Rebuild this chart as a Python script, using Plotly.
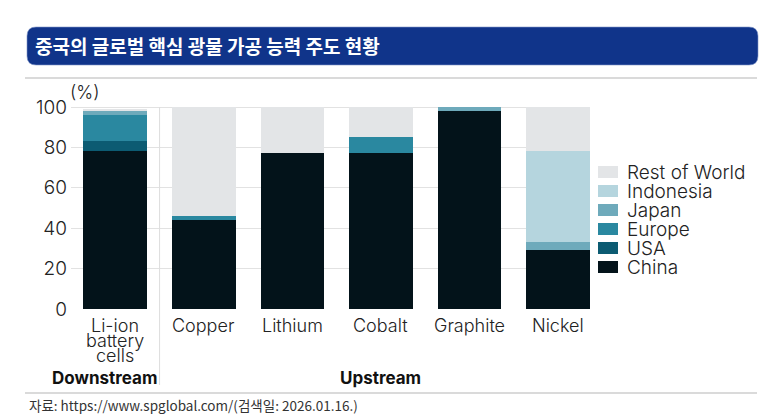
import plotly.graph_objects as go

# data (%)
categories = ["Li-ion\nbattery\ncells", "Copper", "Lithium", "Cobalt", "Graphite", "Nickel"]
china = [78, 44, 77, 77, 98, 29]
usa = [5, 0, 0, 0, 0, 0]
europe = [13, 2, 0, 8, 0, 0]
japan = [2, 0, 0, 0, 2, 4]
indonesia = [0, 0, 0, 0, 0, 45]
rest_of_world = [1, 54, 23, 15, 0, 22]
y_ticks = [0, 20, 40, 60, 80, 100]

series = [
    ("China", china, "#03131a"),
    ("USA", usa, "#0c5b72"),
    ("Europe", europe, "#2a88a0"),
    ("Japan", japan, "#6eaabb"),
    ("Indonesia", indonesia, "#b5d5de"),
    ("Rest of World", rest_of_world, "#e3e5e7"),
]

# plot area in pixels, used to place the decorations
L, R, T, B = 71, 590, 105, 309
W, H = R - L, B - T


def px(x):
    return (x - L) / W


def py(y):
    return (B - y) / H


xs = list(range(len(categories)))
label_font = dict(family="Inter, Lato, sans-serif", size=18, color="#222222", weight=300)

fig = go.Figure()
for name, vals, color in series:
    fig.add_trace(go.Bar(
        x=xs, y=vals, name=name,
        marker=dict(color=color, line=dict(width=0)),
    ))

# category labels, one line at a time so the leading stays tight like the original
for i, cat in enumerate(categories):
    for j, line in enumerate(cat.split("\n")):
        fig.add_annotation(x=i, y=0, xref="x", yref="y", text=line, showarrow=False,
                           yanchor="top", yshift=-4 - j * 15, font=label_font)

# legend drawn by hand: top entry is the last series
for k, (name, vals, color) in enumerate(reversed(series)):
    yc = 172 + k * 19
    fig.add_shape(type="rect", xref="paper", yref="paper", x0=px(598), x1=px(618),
                  y0=py(yc - 6), y1=py(yc + 6), fillcolor=color, line=dict(width=0))
    fig.add_annotation(x=px(625), y=py(yc), xref="paper", yref="paper", text=name,
                       showarrow=False, xanchor="left", yanchor="middle",
                       font=dict(label_font, size=19))

# group labels
group_font = dict(family="Inter, Lato, sans-serif", size=17, color="#111111", weight=700)
fig.add_annotation(x=0, y=py(378), xref="x", yref="paper", text="Downstream", showarrow=False,
                   xshift=-11, yanchor="middle", font=group_font)
fig.add_annotation(x=3, y=py(378), xref="x", yref="paper", text="Upstream", showarrow=False,
                   yanchor="middle", font=group_font)

# (%) unit label
fig.add_annotation(x=px(68), y=py(92), xref="paper", yref="paper", text="(%)", showarrow=False,
                   xanchor="left", yanchor="middle", font=label_font)

# divider between downstream and upstream
fig.add_shape(type="line", xref="x", yref="paper", x0=0.5, x1=0.5, y0=py(385), y1=py(107),
              line=dict(color="#dddddd", width=1))

# rule under the title and above the source
for yy in (78, 393):
    fig.add_shape(type="line", xref="paper", yref="paper", x0=px(25), x1=px(757),
                  y0=py(yy), y1=py(yy), line=dict(color="#b5b5b5", width=1))

# rounded title bar
x0, x1, y0, y1, r = 27, 758, 27, 65, 9
path = (f"M{px(x0 + r)},{py(y0)} L{px(x1 - r)},{py(y0)} Q{px(x1)},{py(y0)} {px(x1)},{py(y0 + r)} "
        f"L{px(x1)},{py(y1 - r)} Q{px(x1)},{py(y1)} {px(x1 - r)},{py(y1)} "
        f"L{px(x0 + r)},{py(y1)} Q{px(x0)},{py(y1)} {px(x0)},{py(y1 - r)} "
        f"L{px(x0)},{py(y0 + r)} Q{px(x0)},{py(y0)} {px(x0 + r)},{py(y0)} Z")
fig.add_shape(type="path", xref="paper", yref="paper", path=path,
              fillcolor="#10348a", line=dict(color="#7f95c8", width=0.6), layer="below")
fig.add_annotation(x=px(33), y=py(46), xref="paper", yref="paper",
                   text="<b>중국의 글로벌 핵심 광물 가공 능력 주도 현황</b>", showarrow=False,
                   xanchor="left", yanchor="middle",
                   font=dict(family="Noto Sans CJK KR", size=19, color="white"))

# source
fig.add_annotation(x=px(27), y=py(405), xref="paper", yref="paper",
                   text="자료: https://www.spglobal.com/(검색일: 2026.01.16.)", showarrow=False,
                   xanchor="left", yanchor="middle",
                   font=dict(family="Noto Sans CJK KR", size=13.5, color="#333333"))

fig.update_layout(
    width=761, height=415,
    margin=dict(l=L, r=761 - R, t=T, b=415 - B),
    barmode="stack", bargap=0.28,
    plot_bgcolor="white", paper_bgcolor="white",
    showlegend=False,
    xaxis=dict(range=[-0.5, 5.36], showticklabels=False, showgrid=False, zeroline=False,
               fixedrange=True),
    yaxis=dict(range=[0, 101], tickvals=y_ticks, showgrid=True, gridcolor="#e2e2e2", gridwidth=1,
               zeroline=False, tickfont=dict(label_font, size=19), ticks="",
               ticklabelstandoff=3),
)

# the page's default body margin would shift the chart by 8px
fig.write_html("out.html", config={"displayModeBar": False},
               post_script="document.body.style.margin='0';")
